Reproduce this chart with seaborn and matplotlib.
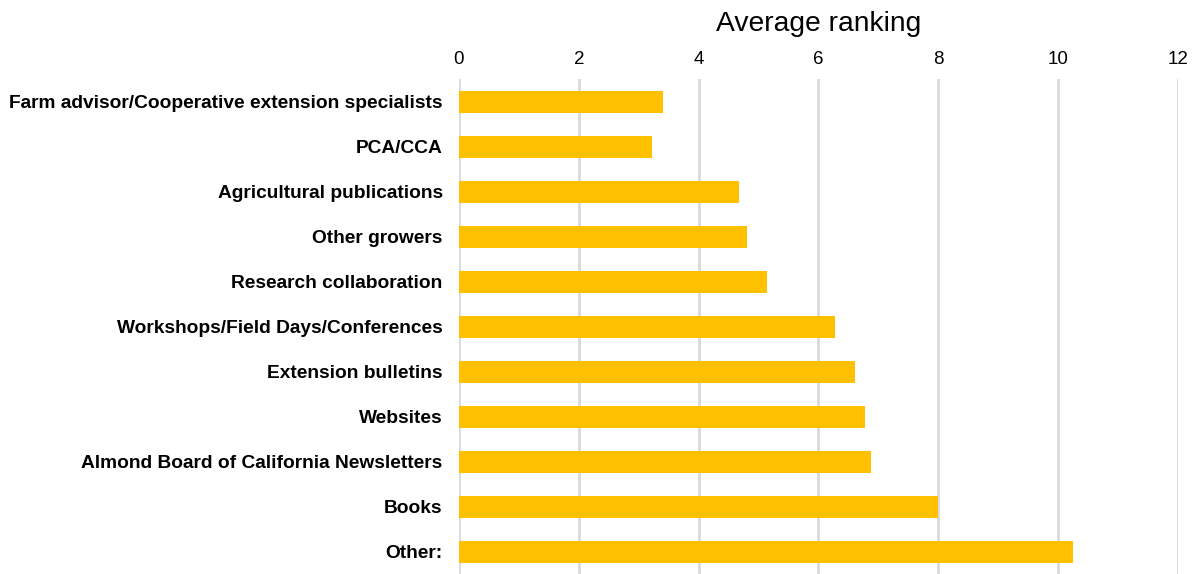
import matplotlib
matplotlib.use("Agg")
import matplotlib.pyplot as plt
import seaborn as sns
import pandas as pd

categories = [
    "Farm advisor/Cooperative extension specialists",
    "PCA/CCA",
    "Agricultural publications",
    "Other growers",
    "Research collaboration",
    "Workshops/Field Days/Conferences",
    "Extension bulletins",
    "Websites",
    "Almond Board of California Newsletters",
    "Books",
    "Other:",
]
avg_ranking = [3.40, 3.22, 4.68, 4.80, 5.14, 6.28, 6.61, 6.78, 6.88, 8.00, 10.24]
x_ticks = [0, 2, 4, 6, 8, 10, 12]

sns.set_theme(style="white")
plt.rcParams["font.family"] = ["Liberation Sans", "DejaVu Sans"]

df = pd.DataFrame({"source": categories, "ranking": avg_ranking})

fig = plt.figure(figsize=(11.94, 5.74), dpi=100)
ax = fig.add_axes([0.3844, 0.0, 0.6022, 0.8615])

sns.barplot(data=df, x="ranking", y="source", orient="h", color="#FFC000",
            saturation=1, width=0.49, edgecolor="none", ax=ax, zorder=3)

ax.set_xlim(0, 12)
ax.set_ylim(len(categories) - 0.5, -0.5)
ax.set_xticks(x_ticks)
ax.set_xticklabels([str(t) for t in x_ticks], fontsize=13.5, color="#000000")
ax.xaxis.tick_top()
ax.xaxis.set_label_position("top")
ax.set_xlabel("Average ranking", fontsize=20.3, color="#000000", labelpad=15)
ax.set_ylabel("")
ax.tick_params(axis="x", length=0, pad=8)
ax.tick_params(axis="y", length=0, pad=11.7)
for lbl in ax.get_yticklabels():
    lbl.set_fontweight("bold")
    lbl.set_fontsize(13.8)
    lbl.set_color("#000000")

ax.grid(axis="x", color="#D9D9D9", linewidth=2, zorder=0)
ax.grid(axis="y", visible=False)
for s in ax.spines.values():
    s.set_visible(False)
ax.set_axisbelow(True)

fig.savefig("out.png", dpi=100, facecolor="white")
